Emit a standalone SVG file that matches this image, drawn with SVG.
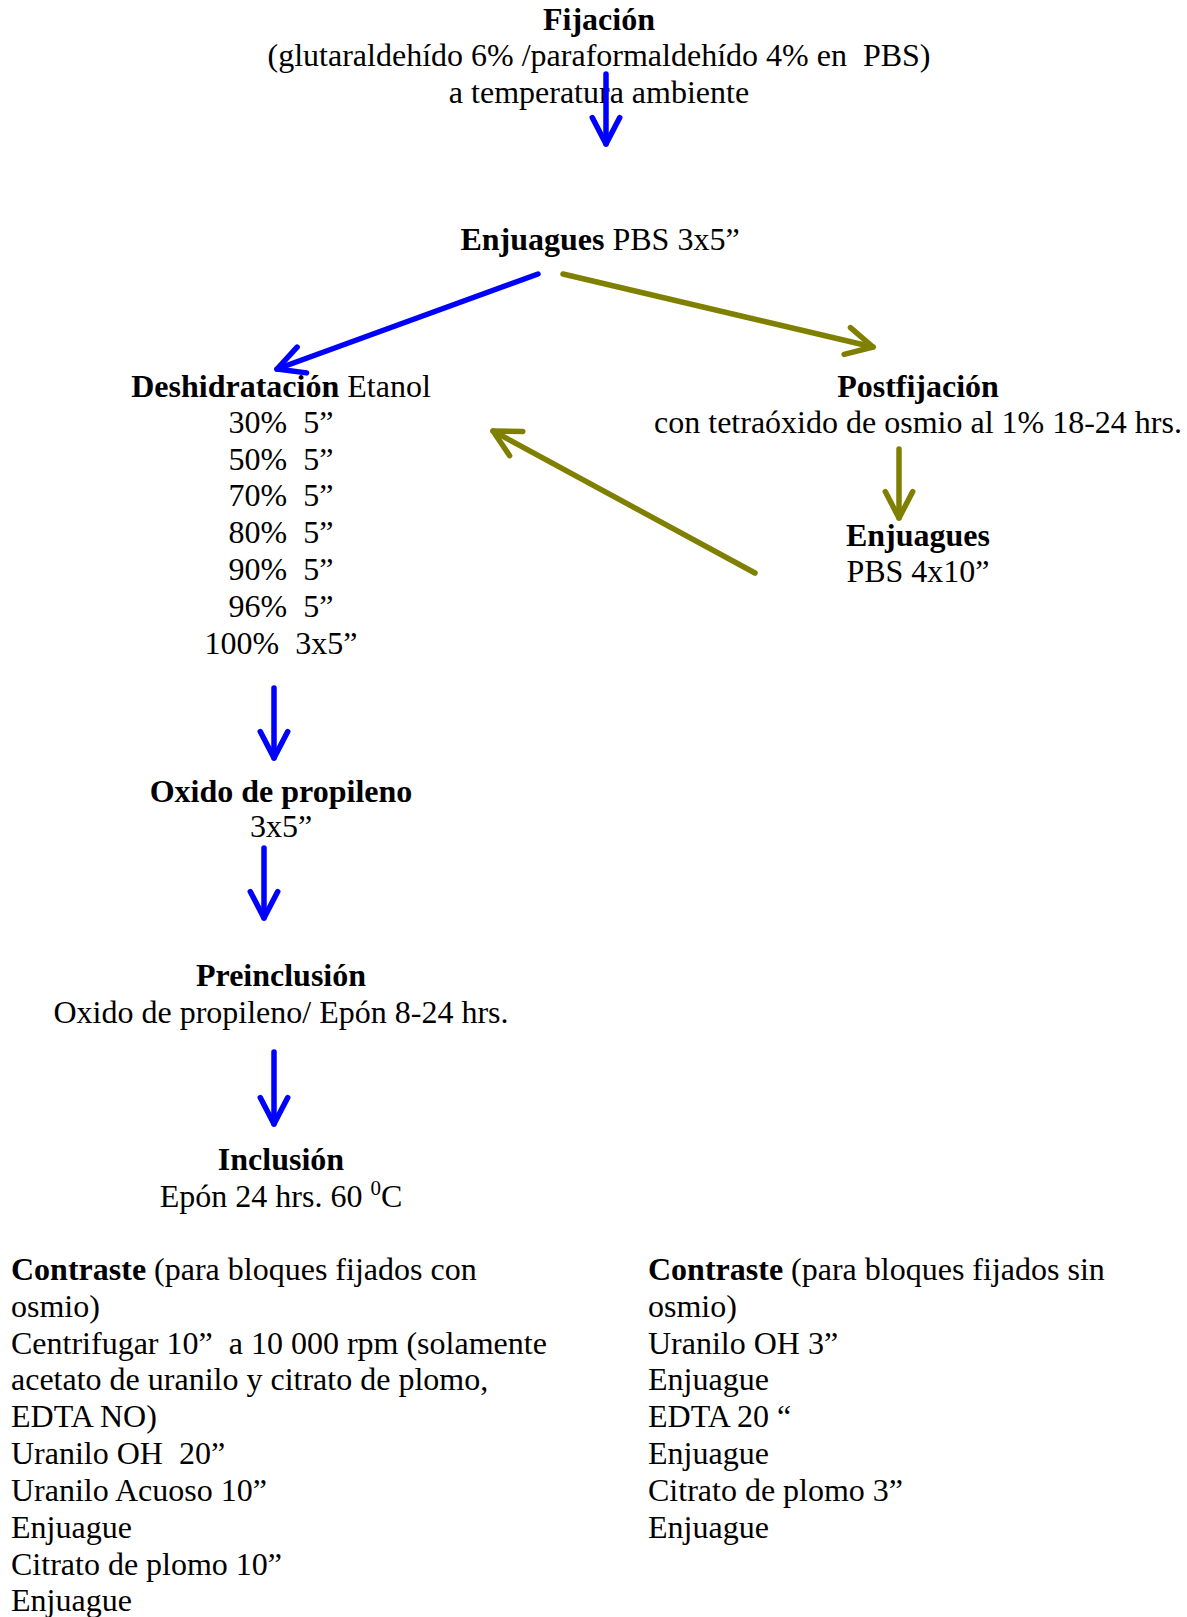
<svg xmlns="http://www.w3.org/2000/svg" width="1187" height="1617" viewBox="0 0 1187 1617" xml:space="preserve">
<style>
text{font-family:"Liberation Serif","Times New Roman",serif;font-size:32px;fill:#000;white-space:pre}
.c{text-anchor:middle}
.b{font-weight:bold}
.blue{stroke:#0000FF;stroke-width:5.5;fill:none;stroke-linecap:round}
.olive{stroke:#808000;stroke-width:5.5;fill:none;stroke-linecap:round}
</style>
<defs>
<marker id="hb" viewBox="-8 -4 10 8" refX="0" refY="0" markerWidth="10" markerHeight="8" markerUnits="strokeWidth" orient="auto" overflow="visible">
<path d="M-4.8,-2.5 L0,0 L-4.8,2.5" fill="none" stroke="#0000FF" stroke-width="1" stroke-linecap="round" stroke-linejoin="round"/>
</marker>
<marker id="ho" viewBox="-8 -4 10 8" refX="0" refY="0" markerWidth="10" markerHeight="8" markerUnits="strokeWidth" orient="auto" overflow="visible">
<path d="M-4.8,-2.5 L0,0 L-4.8,2.5" fill="none" stroke="#808000" stroke-width="1" stroke-linecap="round" stroke-linejoin="round"/>
</marker>
</defs>
<rect width="1187" height="1617" fill="#fff"/>
<g id="fijacion">
<text class="c b" x="599" y="30">Fijación</text>
<text class="c" x="599" y="66">(glutaraldehído 6% /paraformaldehído 4% en  PBS)</text>
<text class="c" x="599" y="103">a temperatura ambiente</text>
</g>
<g id="enjuagues1">
<text class="c" x="600" y="250"><tspan class="b">Enjuagues</tspan> PBS 3x5”</text>
</g>
<g id="deshidratacion">
<text class="c" x="281" y="397"><tspan class="b">Deshidratación</tspan> Etanol</text>
<text class="c" x="281" y="433">30%  5”</text>
<text class="c" x="281" y="470">50%  5”</text>
<text class="c" x="281" y="506">70%  5”</text>
<text class="c" x="281" y="543">80%  5”</text>
<text class="c" x="281" y="580">90%  5”</text>
<text class="c" x="281" y="617">96%  5”</text>
<text class="c" x="281" y="654">100%  3x5”</text>
</g>
<g id="postfijacion">
<text class="c b" x="918" y="397">Postfijación</text>
<text class="c" x="918" y="433">con tetraóxido de osmio al 1% 18-24 hrs.</text>
</g>
<g id="enjuagues2">
<text class="c b" x="918" y="546">Enjuagues</text>
<text class="c" x="918" y="582">PBS 4x10”</text>
</g>
<g id="oxido">
<text class="c b" x="281" y="802">Oxido de propileno</text>
<text class="c" x="281" y="837">3x5”</text>
</g>
<g id="preinclusion">
<text class="c b" x="281" y="986">Preinclusión</text>
<text class="c" x="281" y="1023">Oxido de propileno/ Epón 8-24 hrs.</text>
</g>
<g id="inclusion">
<text class="c" x="281" y="1170"><tspan class="b">Inclusión</tspan></text>
<text class="c" x="281" y="1207">Epón 24 hrs. 60 <tspan font-size="21" dy="-12">0</tspan><tspan dy="12">C</tspan></text>
</g>
<g id="contraste-con-osmio">
<text x="11" y="1280"><tspan class="b">Contraste</tspan> (para bloques fijados con</text>
<text x="11" y="1317">osmio)</text>
<text x="11" y="1354">Centrifugar 10”  a 10 000 rpm (solamente</text>
<text x="11" y="1390">acetato de uranilo y citrato de plomo,</text>
<text x="11" y="1427">EDTA NO)</text>
<text x="11" y="1464">Uranilo OH  20”</text>
<text x="11" y="1501">Uranilo Acuoso 10”</text>
<text x="11" y="1538">Enjuague</text>
<text x="11" y="1575">Citrato de plomo 10”</text>
<text x="11" y="1611">Enjuague</text>
</g>
<g id="contraste-sin-osmio">
<text x="648" y="1280"><tspan class="b">Contraste</tspan> (para bloques fijados sin</text>
<text x="648" y="1317">osmio)</text>
<text x="648" y="1354">Uranilo OH 3”</text>
<text x="648" y="1390">Enjuague</text>
<text x="648" y="1427">EDTA 20 “</text>
<text x="648" y="1464">Enjuague</text>
<text x="648" y="1501">Citrato de plomo 3”</text>
<text x="648" y="1538">Enjuague</text>
</g>
<g id="connectors">
<line class="blue" x1="606" y1="74" x2="606" y2="144" marker-end="url(#hb)"/>
<line class="blue" x1="538" y1="274" x2="277" y2="369" marker-end="url(#hb)"/>
<line class="olive" x1="563" y1="274" x2="873" y2="347" marker-end="url(#ho)"/>
<line class="olive" x1="899" y1="449" x2="899" y2="518" marker-end="url(#ho)"/>
<line class="olive" x1="755" y1="573" x2="493" y2="431" marker-end="url(#ho)"/>
<line class="blue" x1="274" y1="688" x2="274" y2="758" marker-end="url(#hb)"/>
<line class="blue" x1="264" y1="848" x2="264" y2="918" marker-end="url(#hb)"/>
<line class="blue" x1="274" y1="1052" x2="274" y2="1124" marker-end="url(#hb)"/>
</g>
</svg>
